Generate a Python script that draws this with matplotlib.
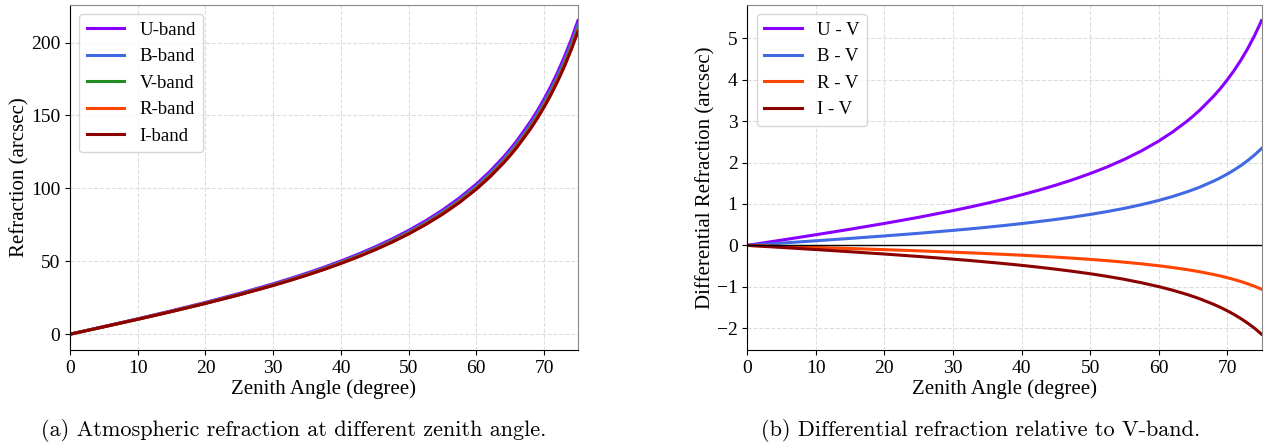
import matplotlib
matplotlib.use('Agg')
import matplotlib.pyplot as plt
import numpy as np

# Global
plt.rcParams['font.family'] = 'serif'
plt.rcParams['font.serif'] = ['Liberation Serif', 'DejaVu Serif']
plt.rcParams['font.size'] = 14
plt.rcParams['axes.unicode_minus'] = True

# Data
zenith = [0, 5, 10, 15, 20, 25, 30, 32.5, 35, 37.5, 40, 42.5, 45, 47.5, 50,
          52.5, 55, 57.5, 60, 62, 64, 65, 66, 68, 69, 70, 71, 72, 73, 74, 75]

v_band = [0.0, 5.12, 10.31, 15.67, 21.29, 27.26, 33.75, 37.23, 40.90, 44.81,
          48.99, 53.48, 58.33, 63.62, 69.44, 75.87, 83.06, 91.18, 100.46,
          108.91, 118.50, 123.81, 129.50, 142.26, 149.45, 157.27, 165.81,
          175.18, 185.50, 196.93, 209.65]

u_minus_v = [0.0, 0.127, 0.257, 0.390, 0.530, 0.678, 0.840, 0.927, 1.019,
             1.116, 1.221, 1.333, 1.455, 1.588, 1.734, 1.896, 2.078, 2.284,
             2.520, 2.736, 2.983, 3.120, 3.268, 3.601, 3.790, 3.998, 4.226,
             4.478, 4.759, 5.074, 5.430]
b_minus_v = [0.0, 0.055, 0.111, 0.168, 0.228, 0.292, 0.362, 0.399, 0.439,
             0.481, 0.526, 0.575, 0.627, 0.684, 0.747, 0.817, 0.895, 0.984,
             1.086, 1.179, 1.286, 1.345, 1.408, 1.552, 1.633, 1.723, 1.821,
             1.930, 2.051, 2.187, 2.340]
r_minus_v = [0.0, -0.025, -0.050, -0.076, -0.103, -0.132, -0.164, -0.181,
             -0.199, -0.218, -0.238, -0.260, -0.284, -0.310, -0.338, -0.370,
             -0.406, -0.446, -0.492, -0.534, -0.582, -0.609, -0.638, -0.703,
             -0.740, -0.780, -0.825, -0.874, -0.929, -0.990, -1.060]
i_minus_v = [0.0, -0.050, -0.101, -0.154, -0.209, -0.268, -0.332, -0.366,
             -0.403, -0.441, -0.482, -0.527, -0.575, -0.628, -0.685, -0.749,
             -0.821, -0.903, -0.996, -1.081, -1.179, -1.233, -1.291, -1.423,
             -1.498, -1.580, -1.670, -1.770, -1.881, -2.005, -2.146]

bands = ['U-band', 'B-band', 'V-band', 'R-band', 'I-band']
diff_labels = ['U - V', 'B - V', 'R - V', 'I - V']
colors = {'U': '#8A00FF', 'B': '#4169E1', 'V': '#228B22', 'R': '#FF4500', 'I': '#8B0000'}

x = np.array(zenith)
v = np.array(v_band)
refraction = {
    'U': v + np.array(u_minus_v),
    'B': v + np.array(b_minus_v),
    'V': v,
    'R': v + np.array(r_minus_v),
    'I': v + np.array(i_minus_v),
}
diffs = {'U': u_minus_v, 'B': b_minus_v, 'R': r_minus_v, 'I': i_minus_v}

fig = plt.figure(figsize=(12.73, 4.48), dpi=100)
ax1 = fig.add_axes([0.055, 0.219, 0.399, 0.770])
ax2 = fig.add_axes([0.587, 0.219, 0.404, 0.770])

# (a) refraction
for key, lab in zip(['U', 'B', 'V', 'R', 'I'], bands):
    ax1.plot(x, refraction[key], color=colors[key], label=lab, linewidth=2.2)
ax1.set_xlim(0, 75)
ax1.set_xticks(np.arange(0, 71, 10))
ax1.set_yticks([0, 50, 100, 150, 200])
ax1.set_xlabel('Zenith Angle (degree)', fontsize=15, labelpad=2)
ax1.set_ylabel('Refraction (arcsec)', fontsize=15, labelpad=1)
ax1.legend(loc='upper left', fontsize=13.5)

# (b) differential refraction
for key, lab in zip(['U', 'B', 'R', 'I'], diff_labels):
    ax2.plot(x, diffs[key], color=colors[key], label=lab, linewidth=2.2)
ax2.axhline(0, color='black', linewidth=1)
ax2.set_xlim(0, 75)
ax2.set_xticks(np.arange(0, 71, 10))
ax2.set_yticks(np.arange(-2, 6, 1))
ax2.set_xlabel('Zenith Angle (degree)', fontsize=15, labelpad=2)
ax2.set_ylabel('Differential Refraction (arcsec)', fontsize=15, labelpad=1)
ax2.legend(loc='upper left', fontsize=13.5)

for ax in (ax1, ax2):
    ax.grid(True, linestyle='--', linewidth=0.8, color='#dddddd')
    ax.set_axisbelow(True)
    ax.spines['top'].set_color('#888888')
    ax.spines['right'].set_color('#888888')
    ax.tick_params(labelsize=14)

# captions
fig.text(0.231, 0.04, '(a) Atmospheric refraction at different zenith angle.',
         ha='center', va='center', fontsize=16, family='cmr10')
fig.text(0.770, 0.04, '(b) Differential refraction relative to V-band.',
         ha='center', va='center', fontsize=16, family='cmr10')

fig.savefig('out.png', dpi=100)
